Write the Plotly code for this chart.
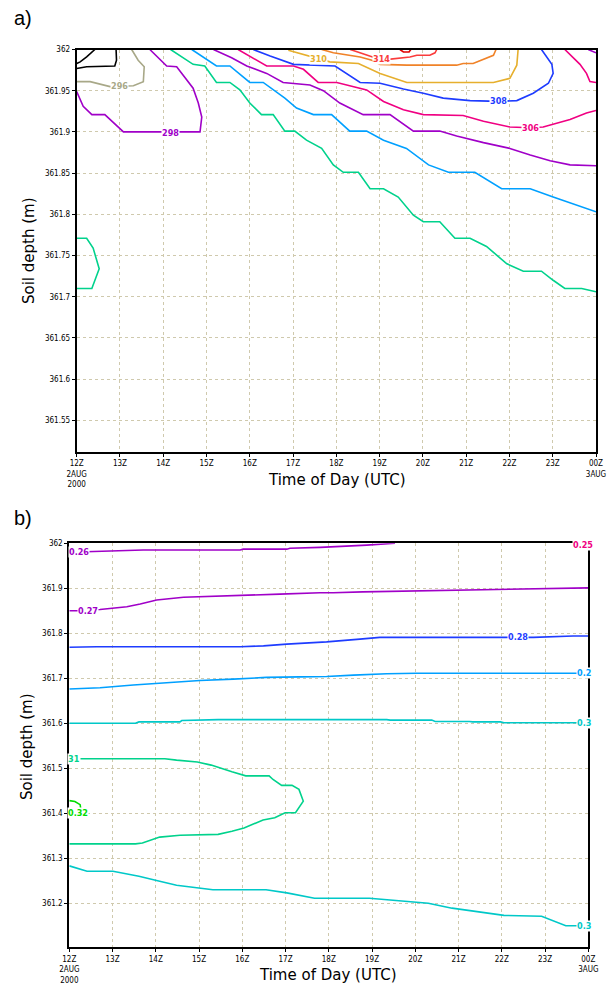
import plotly.graph_objects as go

# ---------------- Panel a: soil temperature (K) contours ----------------
# time in hours after 12Z 2AUG2000, depth in m
a_294_t = [0, 0.08, 0.23, 0.31, 0.42]
a_294_d = [361.983, 361.985, 361.991, 361.995, 362.0]
a_292_t = [0, 0.23, 0.88, 0.92, 0.91]
a_292_d = [361.977, 361.979, 361.980, 361.987, 362.0]
a_296_t = [0, 0.31, 0.77, 1.31, 1.54, 1.56, 1.42, 1.27]
a_296_d = [361.961, 361.961, 361.955, 361.956, 361.961, 361.979, 361.987, 362.0]
a_298_t = [0, 0.15, 0.35, 0.65, 1.08, 2.85, 2.89, 2.81, 2.69, 2.31, 2.08, 1.69]
a_298_d = [361.949, 361.931, 361.921, 361.921, 361.900, 361.900, 361.918, 361.935,
           361.953, 361.979, 361.980, 362.0]
a_300_t = [2.17, 2.69, 2.96, 3.23, 3.54, 3.77, 4.00, 4.27, 4.54, 4.81, 5.04, 5.31, 5.66,
           5.93, 6.16, 6.51, 6.78, 7.09, 7.43, 7.78, 8.01, 8.39, 8.74, 9.09, 9.47, 9.94,
           10.32, 10.74, 11.01, 11.28, 11.67, 12.0]
a_300_d = [362.0, 361.982, 361.980, 361.960, 361.960, 361.951, 361.935, 361.921, 361.921,
           361.901, 361.901, 361.890, 361.880, 361.860, 361.851, 361.851, 361.831, 361.831,
           361.821, 361.799, 361.791, 361.791, 361.771, 361.771, 361.761, 361.740, 361.731,
           361.731, 361.720, 361.710, 361.710, 361.706]
a_300b_t = [0, 0.23, 0.38, 0.52, 0.35, 0]
a_300b_d = [361.771, 361.771, 361.759, 361.734, 361.710, 361.710]
a_302_t = [2.66, 3.23, 3.54, 4.00, 4.31, 4.54, 4.81, 5.08, 5.47, 5.89, 6.31, 6.70, 7.09,
           7.62, 8.13, 8.59, 9.20, 9.82, 10.48, 11.01, 12.0]
a_302_d = [362.0, 361.980, 361.980, 361.960, 361.960, 361.951, 361.941, 361.929, 361.921,
           361.921, 361.901, 361.901, 361.890, 361.880, 361.860, 361.851, 361.851, 361.831,
           361.831, 361.821, 361.803]
a_304_t = [3.16, 3.58, 3.93, 4.39, 4.77, 5.39, 5.70, 6.08, 6.31, 6.62, 7.24, 7.78, 8.39,
           8.78, 9.40, 10.01, 10.48, 10.94, 11.40, 12.0]
a_304_d = [362.0, 361.990, 361.980, 361.971, 361.960, 361.957, 361.950, 361.935, 361.929,
           361.921, 361.921, 361.901, 361.901, 361.895, 361.887, 361.880, 361.872, 361.865,
           361.860, 361.859]
a_304b_t = [11.82, 12.0]
a_304b_d = [362.0, 361.996]
a_306_t = [3.73, 4.00, 4.39, 5.01, 5.24, 5.58, 6.01, 6.70, 7.09, 7.55, 8.01, 8.93, 9.40,
           10.01, 10.48, 10.78, 11.40, 11.78, 12.0]
a_306_d = [362.0, 361.992, 361.980, 361.980, 361.976, 361.960, 361.960, 361.951, 361.937,
           361.927, 361.921, 361.920, 361.913, 361.906, 361.905, 361.906, 361.915, 361.923,
           361.926]
a_306b_t = [11.28, 11.63, 11.78, 11.86, 12.0]
a_306b_d = [362.0, 361.982, 361.971, 361.961, 361.960]
a_308_t = [4.08, 4.47, 5.01, 5.97, 6.55, 7.01, 7.55, 8.01, 8.47, 9.09, 9.74, 10.17, 10.55,
           10.90, 11.01, 10.98, 10.74]
a_308_d = [362.0, 361.992, 361.982, 361.980, 361.960, 361.959, 361.952, 361.947, 361.941,
           361.938, 361.937, 361.938, 361.947, 361.959, 361.971, 361.982, 362.0]
a_310_t = [4.89, 5.16, 5.58, 5.85, 6.51, 7.01, 7.63, 9.63, 10.01, 10.17, 10.20]
a_310_d = [361.999, 361.995, 361.989, 361.985, 361.983, 361.971, 361.960, 361.960,
           361.965, 361.981, 362.0]
a_312_t = [5.66, 5.93, 6.55, 6.82, 7.01, 7.63, 8.78, 8.93, 9.16, 9.47, 9.63, 9.69]
a_312_d = [362.0, 361.996, 361.991, 361.987, 361.982, 361.981, 361.981, 361.983,
           361.983, 361.989, 361.993, 362.0]
a_314_t = [6.32, 6.55, 6.82, 7.01, 7.20, 7.70, 7.86, 8.16, 8.28, 8.32]
a_314_d = [362.0, 361.996, 361.991, 361.988, 361.988, 361.991, 361.993, 361.993,
           361.996, 362.0]
a_316_t = [7.47, 7.55, 7.68, 7.72]
a_316_d = [362.0, 361.997, 361.997, 362.0]

# ---------------- Panel b: soil moisture contours ----------------
b_026_t = [0, 0.44, 1.02, 1.64, 1.71, 3.95, 4.02, 5.03, 5.10, 5.80, 6.10, 6.88, 7.53]
b_026_d = [361.980, 361.981, 361.983, 361.984, 361.985, 361.985, 361.987, 361.987,
           361.989, 361.991, 361.992, 361.996, 362.0]
b_027_t = [0, 0.2, 0.71, 1.33, 1.64, 2.02, 2.64, 3.02, 3.79, 4.10, 4.87, 5.80, 6.10, 6.78,
           7.88, 8.88, 9.88, 10.73, 11.65, 12.0]
b_027_d = [361.850, 361.850, 361.853, 361.859, 361.865, 361.874, 361.880, 361.881,
           361.883, 361.885, 361.887, 361.890, 361.890, 361.892, 361.894, 361.896,
           361.898, 361.898, 361.900, 361.901]
b_028_t = [0, 0.63, 3.95, 4.49, 5.03, 5.80, 5.95, 6.72, 7.18, 10.73, 10.96, 11.65, 12.0]
b_028_d = [361.769, 361.770, 361.770, 361.772, 361.776, 361.779, 361.781, 361.787,
           361.791, 361.791, 361.792, 361.794, 361.794]
b_029_t = [0, 0.71, 1.48, 2.25, 3.02, 3.79, 4.56, 5.33, 5.95, 6.57, 7.34, 8.03, 11.65, 12.0]
b_029_d = [361.676, 361.679, 361.685, 361.690, 361.695, 361.698, 361.702, 361.703,
           361.704, 361.707, 361.710, 361.711, 361.711, 361.711]
b_030_t = [0, 1.53, 1.61, 2.56, 2.60, 3.36, 3.44, 7.34, 7.42, 8.38, 8.46, 9.25, 9.33,
           9.97, 10.05, 12.0]
b_030_d = [361.600, 361.600, 361.603, 361.603, 361.606, 361.607, 361.608, 361.608,
           361.607, 361.607, 361.604, 361.604, 361.603, 361.603, 361.601, 361.601]
b_031_t = [0, 2.21, 2.48, 2.96, 3.28, 3.52, 3.76, 4.08, 4.62, 4.71, 4.91, 5.15, 5.31, 5.41,
           5.23, 4.99, 4.75, 4.48, 4.32, 4.04, 3.76, 3.44, 2.56, 2.09, 1.69, 1.53, 0]
b_031_d = [361.521, 361.521, 361.518, 361.514, 361.507, 361.499, 361.492, 361.483,
           361.483, 361.475, 361.462, 361.462, 361.453, 361.427, 361.401, 361.401,
           361.390, 361.385, 361.379, 361.367, 361.360, 361.353, 361.351, 361.347,
           361.334, 361.332, 361.332]
b_032_t = [0, 0.13, 0.25, 0.27]
b_032_d = [361.428, 361.426, 361.419, 361.407]
b_030b_t = [0, 0.41, 1.01, 1.61, 2.09, 2.48, 3.32, 4.55, 5.03, 5.67, 6.94, 7.74, 8.30,
            8.85, 9.33, 10.05, 10.92, 11.24, 11.48, 12.0]
b_030b_d = [361.283, 361.271, 361.271, 361.260, 361.249, 361.240, 361.230, 361.230,
            361.223, 361.211, 361.211, 361.205, 361.200, 361.189, 361.182, 361.173,
            361.171, 361.159, 361.150, 361.150]

# ---------------- axes ----------------
hour_vals = list(range(13))
hour_text = ["12Z<br>2AUG<br>2000", "13Z", "14Z", "15Z", "16Z", "17Z", "18Z", "19Z",
             "20Z", "21Z", "22Z", "23Z", "00Z<br>3AUG"]
a_yvals = [362.0, 361.95, 361.9, 361.85, 361.8, 361.75, 361.7, 361.65, 361.6, 361.55]
a_ytext = ["362", "361.95", "361.9", "361.85", "361.8", "361.75", "361.7", "361.65",
           "361.6", "361.55"]
b_yvals = [362.0, 361.9, 361.8, 361.7, 361.6, 361.5, 361.4, 361.3, 361.2]
b_ytext = ["362", "361.9", "361.8", "361.7", "361.6", "361.5", "361.4", "361.3", "361.2"]

C_BLACK = "#000000"
C_TAN = "#a8a888"
C_PURPLE = "#a000c8"
C_AQUA = "#00d28c"
C_MBLUE = "#00a0ff"
C_MAG = "#f00082"
C_BLUE = "#1e3cff"
C_DYEL = "#e6af2d"
C_ORANGE = "#f08228"
C_RED = "#fa3c3c"
C_DRED = "#e00000"
C_CYAN = "#00c8c8"
C_GREEN = "#00dc00"

fig = go.Figure()

def add(t, d, color, xa, ya, w=1.6):
    fig.add_trace(go.Scatter(x=t, y=d, mode="lines", xaxis=xa, yaxis=ya,
                             line=dict(color=color, width=w), hoverinfo="skip",
                             showlegend=False))

for t, d, c in [(a_292_t, a_292_d, C_BLACK), (a_294_t, a_294_d, C_BLACK),
                (a_296_t, a_296_d, C_TAN), (a_298_t, a_298_d, C_PURPLE),
                (a_300_t, a_300_d, C_AQUA), (a_300b_t, a_300b_d, C_AQUA),
                (a_302_t, a_302_d, C_MBLUE), (a_304_t, a_304_d, C_PURPLE),
                (a_304b_t, a_304b_d, C_PURPLE), (a_306_t, a_306_d, C_MAG),
                (a_306b_t, a_306b_d, C_MAG), (a_308_t, a_308_d, C_BLUE),
                (a_310_t, a_310_d, C_DYEL), (a_312_t, a_312_d, C_ORANGE),
                (a_314_t, a_314_d, C_RED), (a_316_t, a_316_d, C_DRED)]:
    add(t, d, c, "x", "y")

for t, d, c in [(b_026_t, b_026_d, C_PURPLE), (b_027_t, b_027_d, C_PURPLE),
                (b_028_t, b_028_d, C_BLUE), (b_029_t, b_029_d, C_MBLUE),
                (b_030_t, b_030_d, C_CYAN), (b_031_t, b_031_d, C_AQUA),
                (b_032_t, b_032_d, C_GREEN), (b_030b_t, b_030b_d, C_CYAN)]:
    add(t, d, c, "x2", "y2")

# contour labels
a_labels = [("296", 1.0, 361.956, C_TAN), ("298", 2.16, 361.899, C_PURPLE),
            ("310", 5.58, 361.989, C_DYEL), ("314", 7.05, 361.988, C_RED),
            ("308", 9.74, 361.937, C_BLUE), ("306", 10.48, 361.905, C_MAG)]
b_labels = [("0.26", 0.23, 361.980, C_PURPLE), ("0.27", 0.44, 361.850, C_PURPLE),
            ("0.28", 10.38, 361.791, C_BLUE), ("0.2", 11.9, 361.711, C_MBLUE),
            ("0.3", 11.9, 361.601, C_CYAN), ("31", 0.12, 361.521, C_AQUA),
            ("0.32", 0.2, 361.400, C_GREEN), ("0.3", 11.9, 361.150, C_CYAN),
            ("0.25", 11.88, 361.997, C_MAG)]

LBLFONT = "Liberation Sans Narrow, DejaVu Sans Condensed, Arial Narrow, sans-serif"
annotations = []
for txt, t, d, c in a_labels:
    annotations.append(dict(x=t, y=d, xref="x", yref="y", text="<b>" + txt + "</b>",
                            showarrow=False, bgcolor="white", borderpad=0,
                            xanchor="center", yanchor="middle",
                            font=dict(size=9, color=c, family=LBLFONT)))
for txt, t, d, c in b_labels:
    annotations.append(dict(x=t, y=d, xref="x2", yref="y2", text="<b>" + txt + "</b>",
                            showarrow=False, bgcolor="white", borderpad=0,
                            xanchor="center", yanchor="middle",
                            font=dict(size=9, color=c, family=LBLFONT)))

TITLEFONT = dict(size=15, color="black", family="DejaVu Sans, sans-serif")
PANELFONT = dict(size=20, family="Liberation Sans, Arial, sans-serif", color="black")

def paper_text(txt, px, py, font, angle=0):
    return dict(x=px / 612, y=1 - py / 988, xref="paper", yref="paper", text=txt,
                showarrow=False, xanchor="center", yanchor="middle",
                textangle=angle, font=font)

annotations += [
    paper_text("a)", 23, 18, PANELFONT),
    paper_text("b)", 23, 518, PANELFONT),
    paper_text("Time of Day (UTC)", 337, 480, TITLEFONT),
    paper_text("Time of Day (UTC)", 328, 975, TITLEFONT),
    paper_text("Soil depth (m)", 29, 251, TITLEFONT, -90),
    paper_text("Soil depth (m)", 27, 747, TITLEFONT, -90),
]

TICKFONT = dict(size=8, color="black", family=LBLFONT)
GRID = dict(showgrid=True, gridcolor="#cfc9ad", griddash="dot", gridwidth=1,
            showline=True, linecolor="black", linewidth=2, mirror=True,
            ticks="outside", ticklen=3, tickcolor="black", tickfont=TICKFONT,
            zeroline=False, automargin=False)

fig.update_layout(
    template="none",
    width=612, height=988, paper_bgcolor="white", plot_bgcolor="white",
    margin=dict(l=0, r=0, t=0, b=0), showlegend=False,
    xaxis=dict(domain=[76.7 / 612, 596 / 612], anchor="y", range=[0, 12],
               tickvals=hour_vals, ticktext=hour_text, **GRID),
    yaxis=dict(domain=[1 - 451.7 / 988, 1 - 49.5 / 988], anchor="x",
               range=[361.512, 362.0], tickvals=a_yvals, ticktext=a_ytext, **GRID),
    xaxis2=dict(domain=[69.3 / 612, 588.3 / 612], anchor="y2", range=[0, 12],
                tickvals=hour_vals, ticktext=hour_text, **GRID),
    yaxis2=dict(domain=[1 - 947.3 / 988, 1 - 543.3 / 988], anchor="x2",
                range=[361.102, 362.0], tickvals=b_yvals, ticktext=b_ytext, **GRID),
    annotations=annotations,
)

fig.write_html("out.html", config={"displayModeBar": False},
               post_script="document.body.style.margin='0';document.body.style.padding='0';")
